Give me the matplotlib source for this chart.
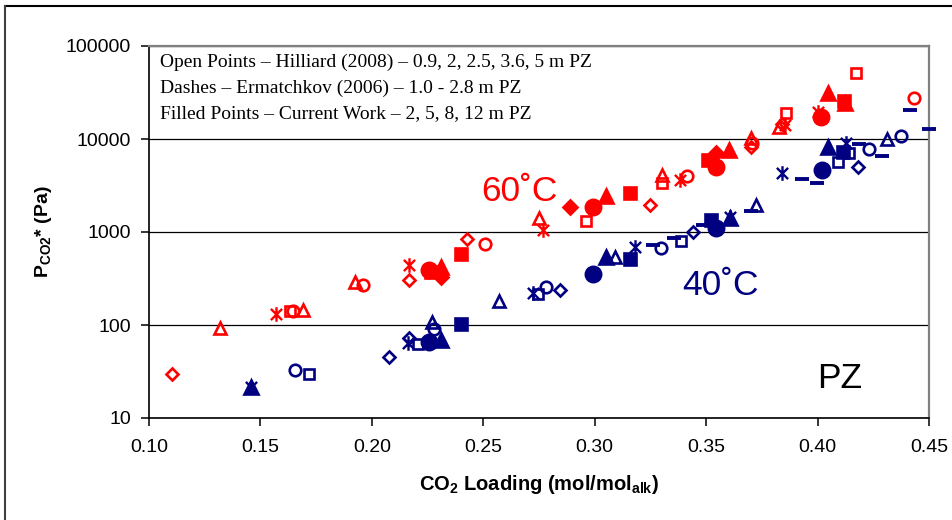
import matplotlib
matplotlib.use("Agg")
import matplotlib.pyplot as plt
from matplotlib.path import Path
from matplotlib.lines import Line2D

plt.rcParams['font.family'] = ['Liberation Sans', 'DejaVu Sans']
plt.rcParams['mathtext.fontset'] = 'custom'
plt.rcParams['mathtext.rm'] = 'Liberation Sans'
plt.rcParams['mathtext.bf'] = 'Liberation Sans:bold'

RED = '#FF0000'
NAVY = '#000080'

# ---- 60 C (red) ----
r_open_diamond_x = [0.1103, 0.2168, 0.2426, 0.3249, 0.3703, 0.3840]
r_open_diamond_y = [30, 305, 840, 1950, 8300, 14500]
r_open_tri_x = [0.1318, 0.1689, 0.1925, 0.2749, 0.3303, 0.3703, 0.3825]
r_open_tri_y = [92, 145, 290, 1400, 4100, 10200, 13500]
r_open_sq_x = [0.1633, 0.2959, 0.3303, 0.3860, 0.4172]
r_open_sq_y = [142, 1310, 3340, 18900, 51600]
r_open_circ_x = [0.1645, 0.1961, 0.2509, 0.3414, 0.3705, 0.4432]
r_open_circ_y = [140, 269, 738, 4000, 9000, 27400]
r_star_x = [0.1572, 0.2168, 0.2767, 0.3384, 0.3855, 0.4002]
r_star_y = [130, 440, 1050, 3620, 14000, 19700]
r_fill_diamond_x = [0.2310, 0.2890, 0.3543]
r_fill_diamond_y = [330, 1870, 7000]
r_fill_circ_x = [0.2258, 0.2991, 0.3543, 0.4014]
r_fill_circ_y = [390, 1845, 5040, 17400]
r_fill_tri_x = [0.2310, 0.3052, 0.3603, 0.4045, 0.4125]
r_fill_tri_y = [424, 2440, 7620, 31000, 24500]
r_fill_sq_x = [0.2266, 0.2400, 0.3160, 0.3508, 0.4118]
r_fill_sq_y = [370, 575, 2600, 5940, 25800]

# ---- 40 C (navy) ----
b_open_diamond_x = [0.2078, 0.2168, 0.2842, 0.3442, 0.4183]
b_open_diamond_y = [45, 73, 238, 1007, 4970]
b_open_tri_x = [0.2270, 0.2572, 0.3093, 0.3722, 0.4312]
b_open_tri_y = [108, 182, 535, 1950, 9930]
b_open_sq_x = [0.1719, 0.2205, 0.2744, 0.3388, 0.4092, 0.4142]
b_open_sq_y = [29.5, 62, 214, 806, 5700, 7000]
b_open_circ_x = [0.1656, 0.2280, 0.2782, 0.3296, 0.4232, 0.4374]
b_open_circ_y = [32.6, 90, 258, 673, 7740, 10770]
b_star_x = [0.1458, 0.2160, 0.2722, 0.3183, 0.3605, 0.3842, 0.4127]
b_star_y = [21.4, 64, 219, 695, 1450, 4340, 9000]
b_dash_x = [0.3260, 0.3358, 0.3486, 0.3703, 0.3932, 0.3998, 0.4187, 0.4291, 0.4413, 0.4498]
b_dash_y = [724, 869, 1190, 1690, 3690, 3340, 8770, 6610, 20500, 12700]
b_fill_circ_x = [0.2258, 0.2991, 0.3543, 0.4022]
b_fill_circ_y = [66, 353, 1110, 4640]
b_fill_tri_x = [0.1458, 0.2310, 0.3052, 0.3605, 0.4045]
b_fill_tri_y = [21.4, 69, 535, 1400, 8150]
b_fill_sq_x = [0.2400, 0.3160, 0.3524, 0.4115]
b_fill_sq_y = [103, 508, 1350, 7300]

x_ticks = [0.10, 0.15, 0.20, 0.25, 0.30, 0.35, 0.40, 0.45]
y_ticks = [10, 100, 1000, 10000, 100000]

note_lines = [
    "Open Points \u2013 Hilliard (2008) \u2013 0.9, 2, 2.5, 3.6, 5 m PZ",
    "Dashes \u2013 Ermatchkov (2006) \u2013 1.0 - 2.8 m PZ",
    "Filled Points \u2013 Current Work \u2013 2, 5, 8, 12 m PZ",
]

# six-arm asterisk (x plus vertical bar), like the spreadsheet marker
asterisk = Path([(-1, -1), (1, 1), (-1, 1), (1, -1), (0, -1.3), (0, 1.3)],
                [Path.MOVETO, Path.LINETO, Path.MOVETO, Path.LINETO,
                 Path.MOVETO, Path.LINETO])

fig = plt.figure(figsize=(9.52, 5.2), dpi=100)
ax = fig.add_axes([149 / 952, 1 - 418 / 520, 780 / 952, 372 / 520])


def pts(x, y, color, marker, ms, filled, mew=1.9):
    ax.plot(x, y, linestyle='none', marker=marker, markersize=ms,
            markeredgecolor=color, markeredgewidth=mew,
            markerfacecolor=color if filled else 'none',
            clip_on=False, zorder=3)


for c, d in [(RED, dict(od=(r_open_diamond_x, r_open_diamond_y), ot=(r_open_tri_x, r_open_tri_y),
                         os=(r_open_sq_x, r_open_sq_y), oc=(r_open_circ_x, r_open_circ_y),
                         st=(r_star_x, r_star_y), fd=(r_fill_diamond_x, r_fill_diamond_y),
                         fc=(r_fill_circ_x, r_fill_circ_y), ft=(r_fill_tri_x, r_fill_tri_y),
                         fs=(r_fill_sq_x, r_fill_sq_y))),
             (NAVY, dict(od=(b_open_diamond_x, b_open_diamond_y), ot=(b_open_tri_x, b_open_tri_y),
                         os=(b_open_sq_x, b_open_sq_y), oc=(b_open_circ_x, b_open_circ_y),
                         st=(b_star_x, b_star_y), fd=([], []),
                         fc=(b_fill_circ_x, b_fill_circ_y), ft=(b_fill_tri_x, b_fill_tri_y),
                         fs=(b_fill_sq_x, b_fill_sq_y)))]:
    pts(*d['od'], c, 'D', 6.6, False)
    pts(*d['ot'], c, '^', 9.0, False)
    pts(*d['os'], c, 's', 7.8, False)
    pts(*d['oc'], c, 'o', 8.3, False)
    pts(*d['st'], c, asterisk, 10.5, False, mew=1.7)
    pts(*d['fd'], c, 'D', 7.4, True)
    pts(*d['ft'], c, '^', 10.5, True)
    pts(*d['fs'], c, 's', 9.3, True)
    pts(*d['fc'], c, 'o', 11.0, True)

pts(b_dash_x, b_dash_y, NAVY, '_', 9.5, False, mew=2.8)

ax.set_yscale('log')
ax.set_xlim(0.10, 0.45)
ax.set_ylim(10, 100000)
ax.set_xticks(x_ticks)
ax.set_xticklabels(['%.2f' % v for v in x_ticks])
ax.set_yticks(y_ticks)
ax.set_yticklabels([str(v) for v in y_ticks])
ax.minorticks_off()
ax.tick_params(axis='both', labelsize=14, length=6, width=1.1, direction='out', color='black')
ax.tick_params(axis='y', pad=7)
ax.tick_params(axis='x', pad=9)

ax.grid(axis='y', color='black', linewidth=0.9, zorder=1)
ax.set_axisbelow(True)
for s in ['left', 'bottom']:
    ax.spines[s].set_color('black')
    ax.spines[s].set_linewidth(1.2)
for s in ['top', 'right']:
    ax.spines[s].set_color('#808080')
    ax.spines[s].set_linewidth(1.6)

ax.set_xlabel(r'$\mathbf{CO_2}$ Loading (mol/mol$\mathbf{_{alk}}$)', fontsize=14.5, fontweight='bold')
ax.set_ylabel(r'$\mathbf{P_{CO2}}$* (Pa)', fontsize=14, fontweight='bold')
ax.xaxis.set_label_coords(0.5, -0.147)
ax.yaxis.set_label_coords(-0.122, 0.5)

ax.text(0.266, 2750, '60\u02daC', color=RED, fontsize=25.5, ha='center', va='center')
ax.text(0.3565, 269, '40\u02daC', color=NAVY, fontsize=25.5, ha='center', va='center')
ax.text(0.410, 26.9, 'PZ', color='black', fontsize=25.5, ha='center', va='center')

for i, line in enumerate(note_lines):
    fig.text(160 / 952, 1 - (62 + 26 * i) / 520, line, fontsize=14,
             family=['Liberation Serif', 'DejaVu Serif'], ha='left', va='center')

# outer chart frame (only top and left edges fall inside the image)
fig.add_artist(Line2D([5 / 952, 1], [1 - 6 / 520, 1 - 6 / 520], color='black', lw=1.5,
                      transform=fig.transFigure))
fig.add_artist(Line2D([5 / 952, 5 / 952], [0, 1 - 6 / 520], color='#404040', lw=1.5,
                      transform=fig.transFigure))

fig.savefig('out.png', dpi=100)
plt.close(fig)
